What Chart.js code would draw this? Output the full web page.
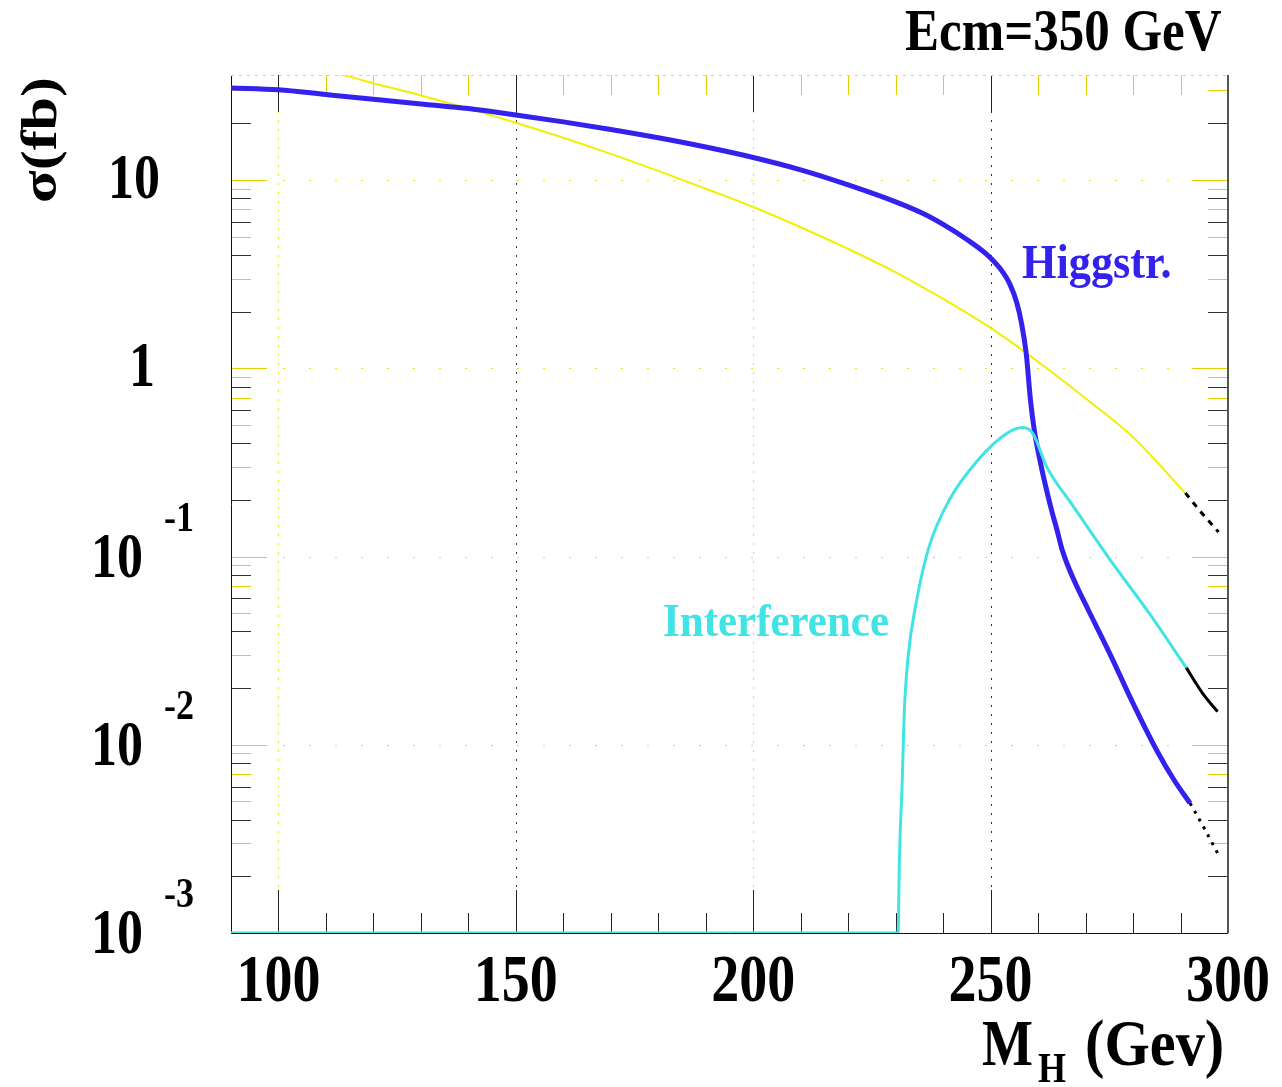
<!DOCTYPE html>
<html>
<head>
<meta charset="utf-8">
<title>Higgs production, Ecm=350 GeV</title>
<script src="https://cdn.jsdelivr.net/npm/chart.js@4.4.0/dist/chart.umd.min.js"></script>
<style>
  html, body { margin: 0; padding: 0; background: #fff; }
  #wrap { width: 1282px; height: 1087px; }
</style>
</head>
<body>
<div id="wrap"><canvas id="xsecChart" width="1282" height="1087"></canvas></div>
<script>
'use strict';

// Higgsstrahlung (blue)
var massHiggs  = [90, 100, 110, 120, 130, 140, 150, 160, 170, 180, 190, 200, 210, 220, 230, 236, 240, 245, 249, 252, 254, 255.5, 256.5, 257.5, 258.4, 259.2, 260, 261, 262, 263, 264, 265, 266, 268, 270.5, 275, 280, 285, 288.7, 292];
var sigmaHiggs = [30.9, 30.2, 28.5, 26.9, 25.4, 24.0, 22.2, 20.4, 18.6, 16.8, 15.0, 13.2, 11.35, 9.44, 7.67, 6.61, 5.82, 4.84, 4.07, 3.39, 2.82, 2.24, 1.74, 1.20, 0.676, 0.468, 0.363, 0.275, 0.214, 0.170, 0.138, 0.110, 0.093, 0.0708, 0.0525, 0.0309, 0.0166, 0.00933, 0.00646, 0.0049];
var massHiggsTail  = [292, 295, 298];
var sigmaHiggsTail = [0.0049, 0.0036, 0.0026];

// fusion (yellow)
var massFusion  = [110, 115, 120, 130, 140, 150, 160, 170, 180, 190, 200, 210, 220, 230, 240, 250, 260, 270, 280, 291];
var sigmaFusion = [38.0, 35.5, 32.7, 28.2, 24.0, 20.2, 16.8, 13.8, 11.2, 9.0, 7.2, 5.62, 4.31, 3.24, 2.34, 1.64, 1.084, 0.692, 0.431, 0.218];
var massFusionTail  = [291, 294.5, 298];
var sigmaFusionTail = [0.218, 0.17, 0.135];

// interference (cyan), sits on the axis floor below threshold
var massInterf  = [90, 150, 200, 230.5, 230.8, 231.4, 231.8, 232.6, 234.5, 237, 241.3, 247.3, 253.3, 256.8, 258.9, 261.9, 267.1, 274.8, 283.4, 291.2];
var sigmaInterf = [0.001, 0.001, 0.001, 0.001, 0.0025, 0.0066, 0.0146, 0.029, 0.06, 0.112, 0.2, 0.325, 0.45, 0.485, 0.45, 0.297, 0.19, 0.099, 0.05, 0.0257];
var massInterfTail  = [291.2, 294.5, 297.8];
var sigmaInterfTail = [0.0257, 0.019, 0.015];

var xTickLabels = [100, 150, 200, 250, 300];
var yTickLabels = [
    { v: 10,    base: '10', exp: ''   },
    { v: 1,     base: '1',  exp: ''   },
    { v: 0.1,   base: '10', exp: '-1' },
    { v: 0.01,  base: '10', exp: '-2' },
    { v: 0.001, base: '10', exp: '-3' }
];

function pts(xs, ys) {
    return xs.map(function (x, i) { return { x: x, y: ys[i] }; });
}

var SERIF = '"Liberation Serif", "DejaVu Serif", serif';

function txt(ctx, s, x, y, size, color, align, sx, sy) {
    ctx.save();
    ctx.translate(x, y);
    ctx.scale(sx || 1, sy || 1.2);
    ctx.font = 'bold ' + size + 'px ' + SERIF;
    ctx.fillStyle = color;
    ctx.textAlign = align || 'left';
    ctx.textBaseline = 'alphabetic';
    ctx.fillText(s, 0, 0);
    ctx.restore();
}

var framePlugin = {
    id: 'framePlugin',
    beforeDatasetsDraw: function (chart) {
        var ctx = chart.ctx, a = chart.chartArea;
        var xs = chart.scales.x, ys = chart.scales.y;
        ctx.save();

        // dotted grid
        [100, 150, 200, 250].forEach(function (m, i) {
            var px = Math.round(xs.getPixelForValue(m)) + 0.5;
            ctx.strokeStyle = i % 2 ? '#333' : '#e6e600';
            ctx.lineWidth = 1;
            ctx.setLineDash([2, 7]);
            ctx.beginPath(); ctx.moveTo(px, a.top); ctx.lineTo(px, a.bottom); ctx.stroke();
        });
        [10, 1, 0.1, 0.01].forEach(function (v) {
            var py = Math.round(ys.getPixelForValue(v)) + 0.5;
            ctx.strokeStyle = '#e6e600';
            ctx.setLineDash([2, 24]);
            ctx.beginPath(); ctx.moveTo(a.left, py); ctx.lineTo(a.right, py); ctx.stroke();
        });
        ctx.setLineDash([]);

        // x tick marks, bottom and top
        for (var m = 100; m < 300; m += 10) {
            var px = Math.round(xs.getPixelForValue(m)) + 0.5;
            var big = m % 50 === 0;
            ctx.strokeStyle = '#222';
            ctx.beginPath();
            ctx.moveTo(px, a.bottom); ctx.lineTo(px, a.bottom - (big ? 43 : 20));
            ctx.stroke();
            ctx.strokeStyle = big ? '#222' : '#e0d000';
            ctx.beginPath();
            ctx.moveTo(px, a.top); ctx.lineTo(px, a.top + (big ? 37 : 20));
            ctx.stroke();
        }

        // y tick marks, left and right
        for (var k = -3; k <= 1; k++) {
            for (var d = 1; d <= 9; d++) {
                var v = d * Math.pow(10, k);
                if (v < ys.min || v > ys.max) continue;
                var py = Math.round(ys.getPixelForValue(v)) + 0.5;
                var len = d === 1 ? 36 : 20;
                ctx.strokeStyle = d % 2 ? '#e0d000' : '#333';
                ctx.beginPath();
                ctx.moveTo(a.left, py); ctx.lineTo(a.left + len, py);
                ctx.moveTo(a.right, py); ctx.lineTo(a.right - len, py);
                ctx.stroke();
            }
        }

        // frame
        ctx.lineWidth = 1;
        ctx.strokeStyle = '#111';
        ctx.beginPath();
        ctx.moveTo(a.left + 0.5, a.top); ctx.lineTo(a.left + 0.5, a.bottom + 0.5);
        ctx.lineTo(a.right, a.bottom + 0.5);
        ctx.stroke();
        ctx.strokeStyle = '#555';
        ctx.lineWidth = 2;
        ctx.beginPath(); ctx.moveTo(a.right, a.top); ctx.lineTo(a.right, a.bottom); ctx.stroke();
        ctx.strokeStyle = '#e6e600';
        ctx.lineWidth = 1;
        ctx.setLineDash([3, 5]);
        ctx.beginPath(); ctx.moveTo(a.left, a.top + 0.5); ctx.lineTo(a.right, a.top + 0.5); ctx.stroke();
        ctx.restore();
    },
    afterDraw: function (chart) {
        var ctx = chart.ctx;
        var xs = chart.scales.x, ys = chart.scales.y;

        // x tick labels
        xTickLabels.forEach(function (m) {
            txt(ctx, String(m), xs.getPixelForValue(m), 1001, 56, '#000', 'center');
        });

        // y tick labels with exponents
        yTickLabels.forEach(function (t) {
            var py = ys.getPixelForValue(t.v);
            if (t.exp) {
                txt(ctx, t.base, 143, py + 20, 52, '#000', 'right');
                txt(ctx, t.exp, 164, py - 26, 36, '#000', 'left');
            } else if (t.base === '10') {
                txt(ctx, t.base, 160, py + 18, 52, '#000', 'right');
            } else {
                txt(ctx, t.base, 155, py + 18, 52, '#000', 'right');
            }
        });

        // title and axis titles
        txt(ctx, 'Ecm=350 GeV', 905, 50, 50, '#000', 'left', 1.02, 1.2);
        ctx.save();
        ctx.translate(56, 140);
        ctx.rotate(-Math.PI / 2);
        txt(ctx, '\u03c3(fb)', 0, 0, 50, '#000', 'center', 1.2, 1.0);
        ctx.restore();
        txt(ctx, 'M', 982, 1065, 54, '#000', 'left');
        txt(ctx, 'H', 1038, 1082, 36, '#000', 'left');
        txt(ctx, '(Gev)', 1085, 1065, 54, '#000', 'left', 1.08, 1.2);

        // curve labels
        txt(ctx, 'Higgstr.', 1022, 278, 43, '#3322ee', 'left', 1.03, 1.15);
        txt(ctx, 'Interference', 663, 636, 43, '#40e4e4', 'left', 1, 1.1);
    }
};

var ctx = document.getElementById('xsecChart').getContext('2d');
var xsecChart = new Chart(ctx, {
    type: 'line',
    data: {
        datasets: [{
            label: 'Interference',
            data: pts(massInterf, sigmaInterf),
            borderColor: '#40e4e4',
            borderWidth: 3
        }, {
            label: 'Interference tail',
            data: pts(massInterfTail, sigmaInterfTail),
            borderColor: '#000',
            borderWidth: 3
        }, {
            label: 'Higgstr.',
            data: pts(massHiggs, sigmaHiggs),
            borderColor: '#3322ee',
            borderWidth: 5
        }, {
            label: 'Higgstr. tail',
            data: pts(massHiggsTail, sigmaHiggsTail),
            borderColor: '#000',
            borderWidth: 3,
            borderDash: [3, 6]
        }, {
            label: 'Fusion',
            data: pts(massFusion, sigmaFusion),
            borderColor: '#f0f000',
            borderWidth: 2
        }, {
            label: 'Fusion tail',
            data: pts(massFusionTail, sigmaFusionTail),
            borderColor: '#000',
            borderWidth: 3,
            borderDash: [6, 6]
        }]
    },
    options: {
        responsive: false,
        animation: false,
        layout: { padding: { left: 231, right: 54, top: 75, bottom: 154 } },
        elements: {
            point: { radius: 0 },
            line: { cubicInterpolationMode: 'monotone', fill: false }
        },
        plugins: {
            legend: { display: false },
            tooltip: { enabled: false }
        },
        scales: {
            x: {
                type: 'linear',
                min: 90,
                max: 300,
                grid: { display: false },
                border: { display: false },
                ticks: { display: false },
                afterFit: function (s) { s.height = 0; }
            },
            y: {
                type: 'logarithmic',
                min: 0.001,
                max: 36.2,
                grid: { display: false },
                border: { display: false },
                ticks: { display: false },
                afterFit: function (s) { s.width = 0; }
            }
        }
    },
    plugins: [framePlugin]
});
</script>
</body>
</html>
